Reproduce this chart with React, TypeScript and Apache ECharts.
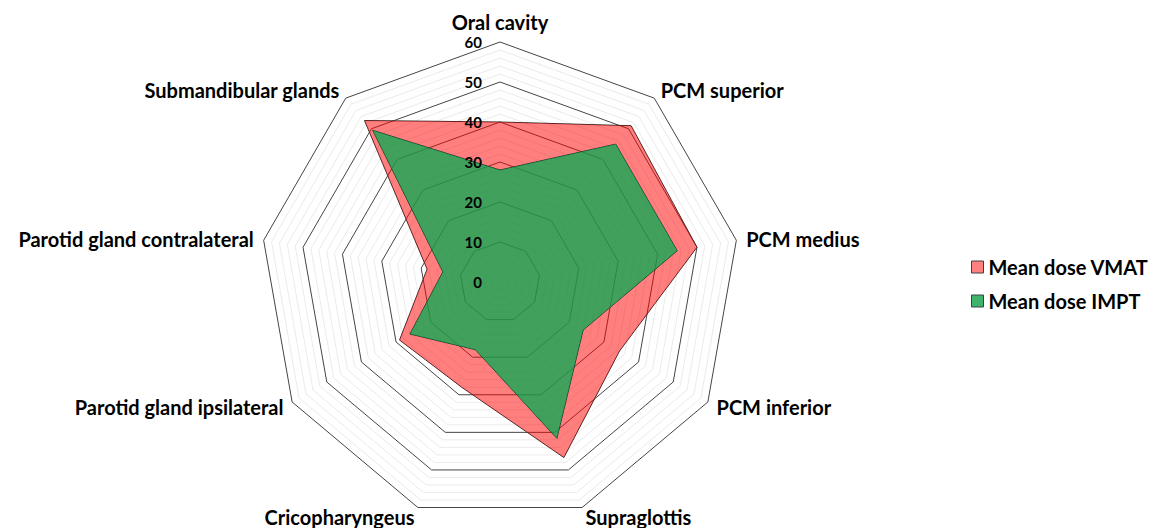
import React, { useEffect, useRef } from "react";
import * as echarts from "echarts";

// Categories in clockwise order starting at the top
const categories = [
  "Oral cavity",
  "PCM superior",
  "PCM medius",
  "PCM inferior",
  "Supraglottis",
  "Cricopharyngeus",
  "Parotid gland ipsilateral",
  "Parotid gland contralateral",
  "Submandibular glands",
];
const vmatValues = [40, 51, 50, 34.5, 46.7, 28, 29, 18.5, 52.7];
const imptValues = [28, 45, 45, 24, 41.6, 18, 26, 14.5, 49.5];
const seriesNames = ["Mean dose VMAT", "Mean dose IMPT"];
const tickLabels = [0, 10, 20, 30, 40, 50, 60];
const axisMin = 0;
const axisMax = 60;
const minorStep = 2;

const FONT = "Lato, 'Open Sans', sans-serif";

export default function App() {
  const ref = useRef<HTMLDivElement>(null);

  useEffect(() => {
    if (!ref.current) return;
    const chart = echarts.init(ref.current, undefined, { renderer: "svg" });
    const n = categories.length;
    // ECharts places indicators counter-clockwise; reverse to get clockwise
    const order = categories.map((_, i) => (n - i) % n);

    const majorEvery = (tickLabels[1] - tickLabels[0]) / minorStep;
    const splitColors: string[] = [];
    for (let i = 0; i < majorEvery; i++) splitColors.push(i === 0 ? "#454545" : "#ebebeb");

    const common = {
      center: [500, 282],
      radius: 240,
      startAngle: 90,
      shape: "polygon",
      splitNumber: (axisMax - axisMin) / minorStep,
      nameGap: 10,
    };

    chart.setOption({
      animation: false,
      backgroundColor: "#ffffff",
      legend: {
        orient: "vertical",
        left: 966,
        top: 252,
        itemWidth: 12,
        itemHeight: 12,
        itemGap: 14,
        icon: "rect",
        textStyle: { fontSize: 20, fontWeight: "bold", fontFamily: FONT, color: "#000" },
        data: [
          { name: seriesNames[0], itemStyle: { color: "#ff8080", borderColor: "#404040", borderWidth: 1 } },
          { name: seriesNames[1], itemStyle: { color: "#3fb36b", borderColor: "#404040", borderWidth: 1 } },
        ],
      },
      radar: [
        {
          ...common,
          z: 0,
          indicator: order.map((k) => ({ name: categories[k], min: axisMin, max: axisMax })),
          axisName: { color: "#000", fontSize: 20, fontWeight: "bold", fontFamily: FONT },
          axisLine: { show: false },
          axisTick: { show: false },
          axisLabel: { show: false },
          splitLine: { lineStyle: { color: splitColors, width: 1 } },
          splitArea: { show: false },
        },
        {
          ...common,
          z: 10,
          indicator: order.map((k, j) => {
            const ind: any = { name: "", min: axisMin, max: axisMax };
            if (j !== 0) ind.axisLabel = { show: false };
            return ind;
          }),
          axisName: { show: false },
          axisLine: { show: false },
          axisTick: { show: false },
          splitLine: { show: false },
          splitArea: { show: false },
          axisLabel: {
            show: true,
            color: "#000",
            fontSize: 15,
            fontWeight: "bold",
            fontFamily: FONT,
            margin: 18,
            formatter: (v: number) => {
              const t = tickLabels.find((x) => Math.abs(x - v) < 1e-6);
              return t === undefined ? "" : String(t);
            },
          },
        },
      ],
      series: [
        {
          type: "radar",
          radarIndex: 0,
          symbol: "none",
          z: 2,
          data: [
            {
              name: seriesNames[0],
              value: order.map((k) => vmatValues[k]),
              itemStyle: { color: "#ff8080" },
              lineStyle: { color: "#2b2b2b", width: 1 },
              areaStyle: { color: "rgba(255,0,0,0.5)", opacity: 1 },
            },
            {
              name: seriesNames[1],
              value: order.map((k) => imptValues[k]),
              itemStyle: { color: "#3fb36b" },
              lineStyle: { color: "#2b2b2b", width: 1 },
              areaStyle: { color: "rgba(0,171,80,0.75)", opacity: 1 },
            },
          ],
        },
      ],
    });
    return () => chart.dispose();
  }, []);

  return (
    <div
      ref={ref}
      style={{ position: "fixed", left: 0, top: 0, width: 1153, height: 528, background: "#fff" }}
    />
  );
}
